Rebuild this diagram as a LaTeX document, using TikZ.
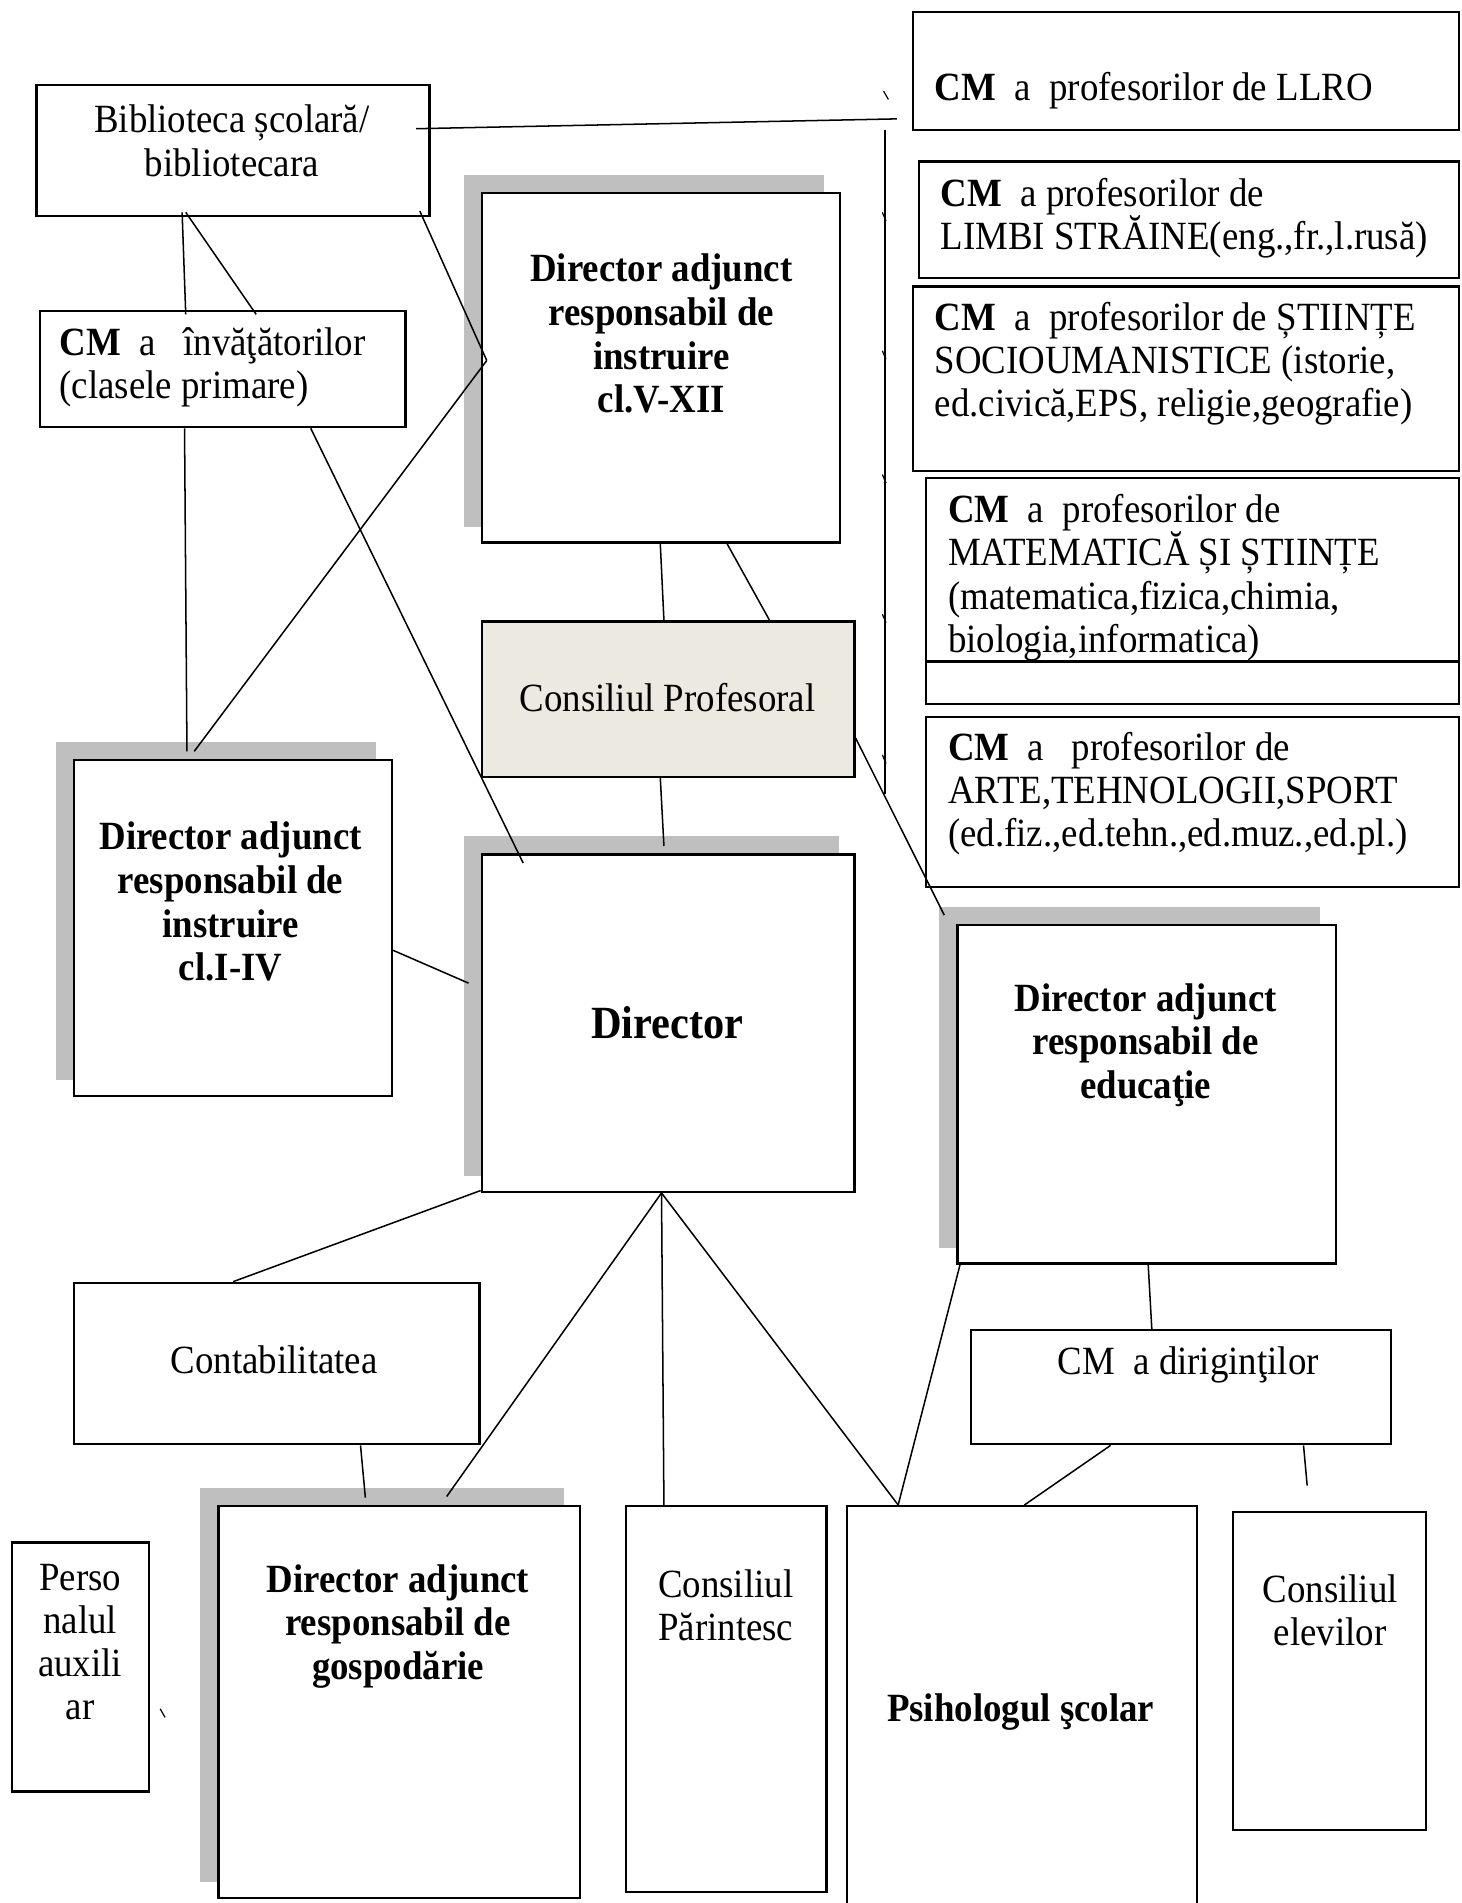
\documentclass[tikz,border=0pt]{standalone}
\usepackage{fontspec}
\setmainfont{Liberation Serif}[FakeStretch=0.92]
\usetikzlibrary{backgrounds,calc}
\definecolor{shadowgray}{RGB}{191,191,191}
\definecolor{cpbeige}{RGB}{236,234,224}
\newcommand{\mkbox}[6][]{\node[box,#1,minimum width={(#5-#3)*1pt},minimum height={(#6-#4)*1pt}] (#2) at ({(#3+#5)/2},{(#4+#6)/2}) {};}
\newcommand{\mkshadow}[1]{\begin{pgfonlayer}{background}\fill[shadowgray] ($(#1.north west)+(-14,-14)$) rectangle ($(#1.south east)+(-14,-14)$);\end{pgfonlayer}}
\begin{document}
\begin{tikzpicture}[x=1pt,y=-1pt,
  box/.style={draw,line width=1.9pt,fill=white,inner sep=0pt,rectangle},
  conn/.style={line width=1.25pt},
  tick/.style={line width=1pt},
  txt/.style={font=\fontsize{33}{35.5}\selectfont,inner sep=0pt,align=center},
  ltxt/.style={font=\fontsize{33}{35.5}\selectfont,inner sep=0pt,align=left,anchor=west},
  btxt/.style={font=\fontsize{33}{36}\selectfont\bfseries,inner sep=0pt,align=center},
]
\useasboundingbox (0,0) rectangle (1204,1568);
\begin{pgfonlayer}{background}
\fill[white] (0,0) rectangle (1204,1568);
\end{pgfonlayer}

% boxes
\mkbox{bib}{30}{70}{354}{178}
\mkbox{llro}{752}{10}{1202}{107}
\mkbox{limbi}{757}{133}{1202}{229}
\mkbox{stiinte}{752}{236}{1202}{388}
\mkbox{mat}{763}{394}{1202}{580}
\mkbox{arte}{763}{591}{1202}{731}
\mkbox{cminv}{33}{256}{334}{352}
\mkbox{dav}{397}{159}{692}{447}
\mkbox[fill=cpbeige]{cp}{397}{512}{704}{640}
\mkbox{dai}{61}{626}{323}{903}
\mkbox{dir}{397}{704}{704}{982}
\mkbox{dae}{789}{762}{1101}{1041}
\mkbox{cont}{61}{1057}{395}{1190}
\mkbox{cmd}{800}{1096}{1146}{1190}
\mkbox{pers}{10}{1271}{123}{1476}
\mkbox{dag}{180}{1241}{478}{1564}
\mkbox{cpar}{516}{1241}{681}{1559}
\mkbox{psih}{698}{1241}{986}{1590}
\mkbox{cel}{1016}{1246}{1175}{1508}

\mkshadow{dav}
\mkshadow{dai}
\mkshadow{dir}
\mkshadow{dae}
\mkshadow{dag}

% inner line of the mathematics box
\draw[line width=1.9pt] ($(mat.north west)+(0,152)$) -- ($(mat.north east)+(0,152)$);

% texts
\node[txt] (tbib) at (191,116) {Biblioteca școlară/\\bibliotecara};
\node[ltxt] (tllro) at (770,75) {\textbf{CM}\ \ a\ \ profesorilor de LLRO};
\node[ltxt] (tlimbi) at (775,180) {\textbf{CM}\ \ a profesorilor de\\LIMBI STRĂINE(eng.,fr.,l.rusă)};
\node[ltxt] (tstiinte) at (770,300) {\textbf{CM}\ \ a\ \ profesorilor de ȘTIINȚE\\SOCIOUMANISTICE (istorie,\\ed.civică,EPS, religie,geografie)};
\node[ltxt] (tmat) at (781,476) {\textbf{CM}\ \ a\ \ profesorilor de\\MATEMATICĂ ȘI ȘTIINȚE\\(matematica,fizica,chimia,\\biologia,informatica)};
\node[ltxt] (tarte) at (781,654) {\textbf{CM}\ \ a\ \ \ profesorilor de\\ARTE,TEHNOLOGII,SPORT\\(ed.fiz.,ed.tehn.,ed.muz.,ed.pl.)};
\node[ltxt] (tcminv) at (49,303) {\textbf{CM}\ \ a\ \ \ învăţătorilor\\(clasele primare)};
\node[btxt] (tdav) at (545,275) {Director adjunct\\responsabil de\\instruire\\cl.V-XII};
\node[txt] (tcp) at (550,575) {Consiliul Profesoral};
\node[btxt] (tdai) at (190,743) {Director adjunct\\responsabil de\\instruire\\cl.I-IV};
\node[btxt,font=\fontsize{38}{42}\selectfont\bfseries] (tdir) at (550,843) {Director};
\node[btxt] (tdae) at (944,861) {Director adjunct\\responsabil de\\educaţie};
\node[txt] (tcont) at (226,1120) {Contabilitatea};
\node[txt] (tcmd) at (979,1125) {CM\ \ a diriginţilor};
\node[txt] (tpers) at (66,1353) {Perso\\nalul\\auxili\\ar};
\node[btxt] (tdag) at (328,1340) {Director adjunct\\responsabil de\\gospodărie};
\node[txt] (tcpar) at (598,1323) {Consiliul\\Părintesc};
\node[btxt] (tpsih) at (841,1411) {Psihologul şcolar};
\node[txt] (tcel) at (1096,1327) {Consiliul\\elevilor};

% bracket line with ticks
\coordinate (brtop) at ($(llro.south west)+(-22,-1)$);
\coordinate (brbot) at ($(arte.west)+(-33,-7)$);
\draw[conn] (brtop) -- (brtop |- brbot);
\foreach \yy in {182,296,398,513,629}{\draw[tick] (727,\yy-7) -- (730,\yy);}
\draw[tick] (728,75) -- (732,82);
\draw[tick] (132,1408) -- (136,1415);

% connectors
\coordinate (llroend) at ($(llro.south west)+(-12,-10)$);
\draw[conn] ($(bib.north east)+(-12,37)$) -- (llroend);
\draw[conn] ($(bib.south west)+(121,-4)$) -- ($(cminv.north west)+(121,4)$);
\draw[conn] ($(bib.south west)+(124,-4)$) -- ($(cminv.north west)+(179,4)$);
\draw[conn] ($(bib.south east)+(-9,-5)$) -- ($(dav.north west)+(5,139)$);
\draw[conn] ($(cminv.south west)+(120,0)$) -- ($(dai.north west)+(94,-6)$);
\draw[conn] ($(dai.north west)+(100,-6)$) -- ($(dav.north west)+(5,139)$);
\draw[conn] ($(cminv.south west)+(224,0)$) -- ($(dir.north west)+(35,8)$);
\draw[conn] ($(dav.south west)+(148,0)$) -- ($(cp.north west)+(151,0)$);
\draw[conn] ($(dav.south west)+(203,0)$) -- ($(cp.north west)+(238,0)$);
\draw[conn] ($(cp.south west)+(148,0)$) -- ($(dir.north west)+(151,-6)$);
\draw[conn] ($(cp.north east)+(0,97)$) -- ($(dae.north west)+(-10,-7)$);
\draw[conn] ($(dai.north east)+(0,158)$) -- ($(dir.north west)+(-10,107)$);
\draw[conn] ($(dir.south west)+(0,-2)$) -- ($(cont.north west)+(132,0)$);
\draw[conn] ($(dir.south west)+(149,0)$) -- ($(dag.north west)+(189,-7)$);
\draw[conn] ($(dir.south west)+(149,0)$) -- ($(cpar.north west)+(32,0)$);
\draw[conn] ($(dir.south west)+(149,0)$) -- ($(psih.north west)+(43,0)$);
\draw[conn] ($(dae.south west)+(3,0)$) -- ($(psih.north west)+(43,0)$);
\draw[conn] ($(dae.south west)+(158,0)$) -- ($(cmd.north west)+(150,0)$);
\draw[conn] ($(cmd.south west)+(116,0)$) -- ($(psih.north west)+(147,0)$);
\coordinate (celend) at ($(cel.north west)+(62,-21)$);
\draw[conn] ($(cmd.south west)+(275,0)$) -- (celend);
\draw[conn] ($(cont.south west)+(237,0)$) -- ($(dag.north west)+(122,-6)$);
\end{tikzpicture}
\end{document}
